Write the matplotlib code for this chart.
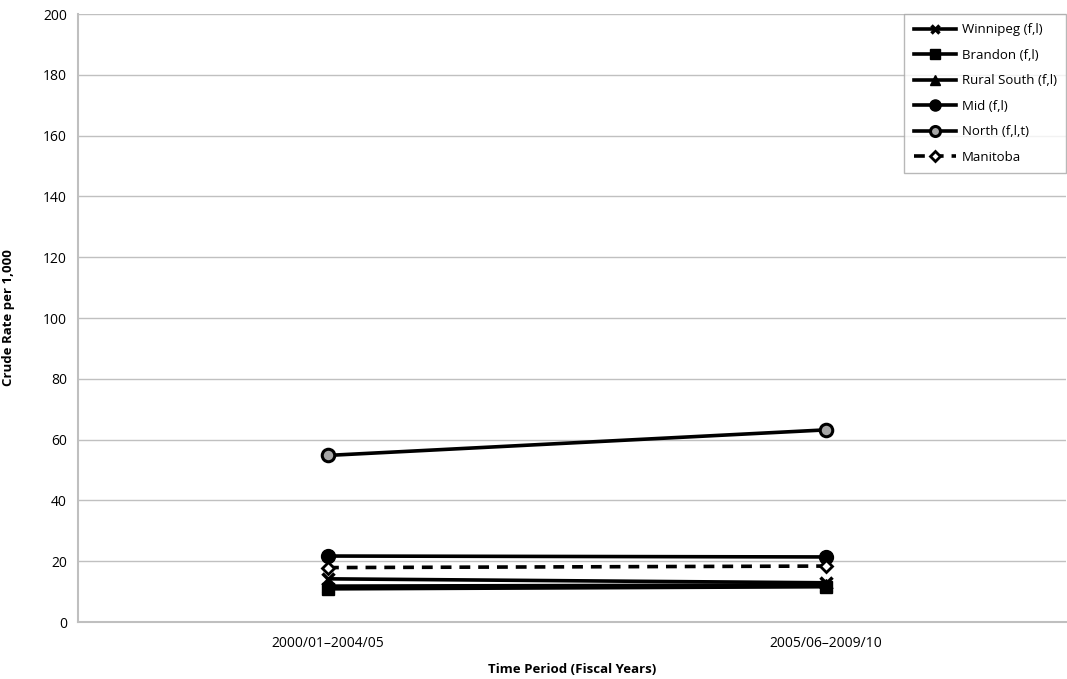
import matplotlib
matplotlib.use("Agg")
import matplotlib.pyplot as plt

periods = ["2000/01\u20132004/05", "2005/06\u20132009/10"]
winnipeg = [14.2, 12.9]
brandon = [10.9, 11.6]
rural_south = [11.8, 12.2]
mid = [21.7, 21.4]
north = [54.8, 63.2]
manitoba = [17.9, 18.4]

y_ticks = [0, 20, 40, 60, 80, 100, 120, 140, 160, 180, 200]

plt.rcParams['font.family'] = ['Open Sans', 'DejaVu Sans']

fig = plt.figure(figsize=(10.67, 6.79), dpi=100)
ax = fig.add_axes([78/1067, 1 - 622/679, (1066-78)/1067, (622-14)/679])

x = list(range(len(periods)))
lw = 2.6
ax.plot(x, winnipeg, color='black', lw=lw, marker='x', ms=8, mew=2.5, label='Winnipeg (f,l)', zorder=3)
ax.plot(x, rural_south, color='black', lw=lw, marker='^', ms=9, label='Rural South (f,l)', zorder=3)
ax.plot(x, brandon, color='black', lw=lw, marker='s', ms=9, label='Brandon (f,l)', zorder=4)
ax.plot(x, mid, color='black', lw=lw, marker='o', ms=10, label='Mid (f,l)', zorder=3)
ax.plot(x, north, color='black', lw=lw, marker='o', ms=9, mfc='#a6a6a6', mec='black', mew=2.2, label='North (f,l,t)', zorder=3)
ax.plot(x, manitoba, color='black', lw=lw, ls=(0, (3, 2.2)), marker='D', ms=6.5, mfc='white', mec='black', mew=2, label='Manitoba', zorder=3)

ax.set_xlim(-0.502, 1.482)
ax.set_ylim(0, 200)
ax.set_xticks(x)
ax.set_xticklabels(periods, fontsize=10)
ax.set_yticks(y_ticks)
ax.set_yticklabels([str(v) for v in y_ticks], fontsize=10)
ax.tick_params(axis='both', length=0, pad=8)
ax.tick_params(axis='x', pad=10)

ax.grid(axis='y', color='#c0c0c0', lw=1)
ax.set_axisbelow(True)
for s in ['top', 'right']:
    ax.spines[s].set_visible(False)
for s in ['left', 'bottom']:
    ax.spines[s].set_color('#bfbfbf')
    ax.spines[s].set_linewidth(1.5)

ax.set_xlabel('Time Period (Fiscal Years)', fontsize=9.5, fontweight='bold', labelpad=9)
ax.set_ylabel('Crude Rate per 1,000', fontsize=9.5, fontweight='bold', labelpad=20)

handles, labels = ax.get_legend_handles_labels()
order = ['Winnipeg (f,l)', 'Brandon (f,l)', 'Rural South (f,l)', 'Mid (f,l)', 'North (f,l,t)', 'Manitoba']
hmap = dict(zip(labels, handles))
leg = ax.legend([hmap[l] for l in order], order, loc='upper right', bbox_to_anchor=(1.0, 1.0),
                borderaxespad=0.0,
                fontsize=9.5, frameon=True, fancybox=False, edgecolor='#a6a6a6',
                handlelength=3.2, handletextpad=0.45, labelspacing=0.95, borderpad=0.7,
                markerscale=0.8)
leg.get_frame().set_linewidth(1)

fig.savefig('out.png', dpi=100)
